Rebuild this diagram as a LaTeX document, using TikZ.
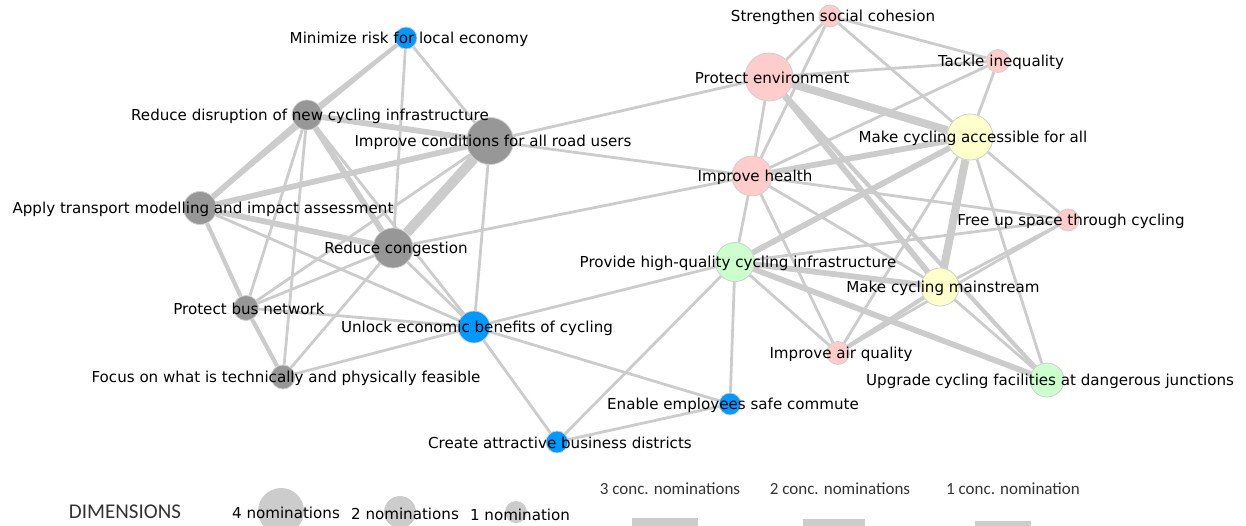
\documentclass[tikz,border=0pt]{standalone}
\usepackage{fontspec}
\usepackage{tikz}
\usetikzlibrary{backgrounds}
\newfontfamily\labelfont{DejaVu Sans}
\newfontfamily\legendfont{Carlito}
\definecolor{linkgrey}{HTML}{CCCCCC}
\definecolor{rimgrey}{HTML}{CFCFCF}
\definecolor{nodegrey}{HTML}{979797}
\definecolor{nodeblue}{HTML}{0099FF}
\definecolor{nodepink}{HTML}{FFCCCC}
\definecolor{nodeyellow}{HTML}{FFFFCC}
\definecolor{nodegreen}{HTML}{CCFFCC}
\definecolor{legendtext}{HTML}{333333}

\begin{document}
\begin{tikzpicture}[x=1pt, y=-1pt,
  nd/.style={circle, draw=rimgrey, line width=0.8pt, inner sep=0pt, minimum size=#1},
  greynd/.style={nd=#1, fill=nodegrey},
  bluend/.style={nd=#1, fill=nodeblue},
  pinknd/.style={nd=#1, fill=nodepink},
  yellownd/.style={nd=#1, fill=nodeyellow},
  greennd/.style={nd=#1, fill=nodegreen},
  lab/.style={font={\labelfont\fontsize{15.1}{18}\selectfont}, xshift=3pt, yshift=-1pt},
  legtext/.style={font={\legendfont\fontsize{17}{20}\selectfont}, text=legendtext},
  link/.style={draw=linkgrey, line width=#1}]
\useasboundingbox (0,0) rectangle (1246,525);
\clip (0,0) rectangle (1246,525);

% goals
\node[bluend=22pt, label={[lab]center:Minimize risk for local economy}] (mr) at (406,38) {};
\node[greynd=47pt, label={[lab]center:Improve conditions for all road users}] (ic) at (490,141) {};
\node[greynd=30pt, label={[lab]center:Reduce disruption of new cycling infrastructure}] (rd) at (307,115) {};
\node[greynd=33pt, label={[lab]center:Apply transport modelling and impact assessment}] (at) at (200,208) {};
\node[greynd=40pt, label={[lab]center:Reduce congestion}] (rc) at (393,248) {};
\node[greynd=25pt, label={[lab]center:Protect bus network}] (pb) at (246,308) {};
\node[greynd=24pt, label={[lab]center:Focus on what is technically and physically feasible}] (fo) at (283,377) {};
\node[bluend=32pt, label={[lab]center:Unlock economic benefits of cycling}] (ue) at (474,327) {};
\node[bluend=22pt, label={[lab]center:Create attractive business districts}] (ca) at (557,442) {};
\node[bluend=22pt, label={[lab]center:Enable employees safe commute}] (ee) at (730,404) {};
\node[greennd=39pt, label={[lab]center:Provide high-quality cycling infrastructure}] (ph) at (735,262) {};
\node[pinknd=40pt, label={[lab]center:Improve health}] (ih) at (752,176) {};
\node[pinknd=48pt, label={[lab]center:Protect environment}] (pe) at (769,77) {};
\node[pinknd=22pt, label={[lab]center:Strengthen social cohesion}] (ss) at (830,16) {};
\node[pinknd=23pt, label={[lab]center:Tackle inequality}] (ti) at (998,61) {};
\node[yellownd=46pt, label={[lab]center:Make cycling accessible for all}] (ma) at (970,137) {};
\node[pinknd=22pt, label={[lab]center:Free up space through cycling}] (fu) at (1068,220) {};
\node[yellownd=38pt, label={[lab]center:Make cycling mainstream}] (mm) at (940,287) {};
\node[pinknd=23pt, label={[lab]center:Improve air quality}] (aq) at (838,353) {};
\node[greennd=34pt, label={[lab]center:Upgrade cycling facilities at dangerous junctions}] (uc) at (1047,380) {};

% links
\begin{scope}[on background layer]
\foreach \a/\b in {mr/at, mr/rc, mr/ic, rd/pb, rd/fo, rd/ue, ic/ue, ic/pb, ic/ih, ic/pe,
  at/ue, rc/pb, rc/fo, rc/ue, rc/ih, pb/ue, fo/ue, ue/ca, ue/ee, ue/ph, ca/ph, ca/ee, ee/ph,
  ph/ih, ph/fu, ph/aq, ih/pe, ih/ss, ih/ti, ih/fu, ih/mm, ih/aq, pe/ss, pe/ti, ss/ti, ss/ma,
  ti/ma, ma/fu, ma/aq, ma/uc, fu/mm, fu/aq, mm/uc}
  \draw[link=2.8pt] (\a) -- (\b);
\foreach \a/\b in {mr/rd, at/pb, pb/fo, aq/mm, pe/uc}
  \draw[link=4.2pt] (\a) -- (\b);
\foreach \a/\b in {rd/ic, rd/at, rd/rc, at/ic, at/rc, ih/ma, ph/ma, ph/mm, ph/uc, pe/mm}
  \draw[link=5.8pt] (\a) -- (\b);
\foreach \a/\b in {ma/mm, pe/ma}
  \draw[link=8pt] (\a) -- (\b);
\draw[link=10pt] (ic) -- (rc);
\end{scope}

% legend
\node[legtext, font={\legendfont\fontsize{21}{24}\selectfont}] (dim) at (125,512) {DIMENSIONS};
\node[nd=46pt, fill=linkgrey, draw=none] (nom4) at (281,511) {};
\node[nd=32pt, fill=linkgrey, draw=none] (nom2) at (400,512) {};
\node[nd=22pt, fill=linkgrey, draw=none] (nom1) at (516,512) {};
\node[lab, xshift=0pt] (nom4-l) at (283,512) {4 nominations};
\node[lab, xshift=0pt] (nom2-l) at (402,513) {2 nominations};
\node[lab, xshift=0pt] (nom1-l) at (517,514) {1 nomination};
\node[legtext] (conc3) at (670,489) {3 conc. nominations};
\node[legtext] (conc2) at (840,489) {2 conc. nominations};
\node[legtext] (conc1) at (1013,489) {1 conc. nomination};
\fill[linkgrey] (632,518) rectangle (698,526);
\fill[linkgrey] (803,519) rectangle (865,526);
\fill[linkgrey] (975,521) rectangle (1031,526);
\end{tikzpicture}
\end{document}
